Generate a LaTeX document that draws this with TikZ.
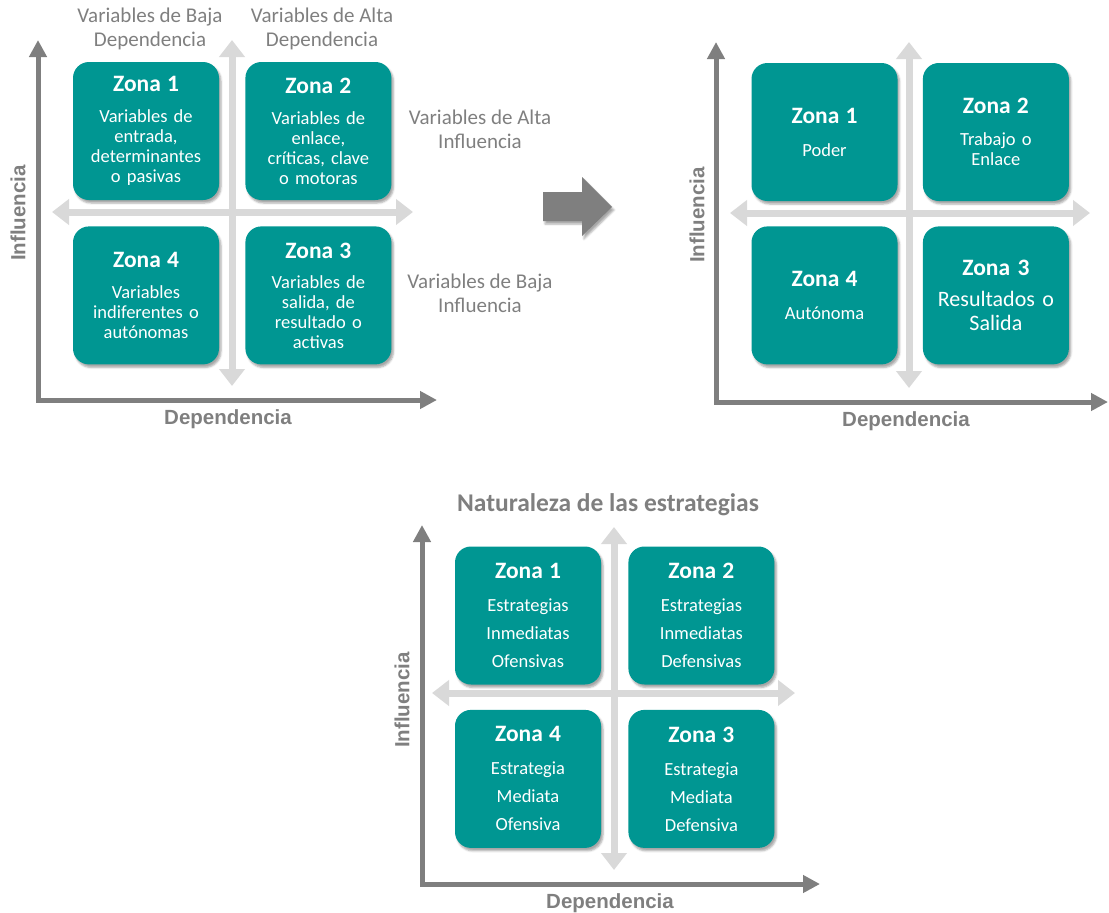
\documentclass[tikz,border=0pt]{standalone}
\usepackage{fontspec}
\setmainfont{Carlito}
\newfontfamily\axisfont{Liberation Sans}
\usetikzlibrary{positioning,arrows.meta,shadows.blur}
\definecolor{zonateal}{RGB}{0,150,146}
\definecolor{axisgray}{RGB}{127,127,127}
\definecolor{crossgray}{RGB}{217,217,217}
\tikzset{
        zone/.style={fill=zonateal, rounded corners=16pt, minimum width=146pt, minimum height=138pt,
            inner sep=0pt, text width=136pt, align=center, text=white, font=\fontsize{18.5}{20}\selectfont,
            blur shadow={shadow xshift=2pt, shadow yshift=-3pt, shadow opacity=35}},
        axis/.style={draw=axisgray, line width=5pt, line join=miter,
            {Triangle[length=17pt,width=17pt]}-{Triangle[length=17pt,width=17pt]}},
        cross/.style={draw=crossgray, line width=7pt,
            {Triangle[length=17pt,width=25pt]}-{Triangle[length=17pt,width=25pt]}},
        axislabel/.style={text=axisgray, font=\axisfont\bfseries\fontsize{20.5}{22}\selectfont},
        sidelabel/.style={text=axisgray, align=center, font=\fontsize{21}{24}\selectfont},
}
\newcommand{\zonatitle}[1]{{\fontsize{23.5}{24}\selectfont\bfseries #1}}
\begin{document}
\begin{tikzpicture}[x=1pt,y=-1pt]
        \useasboundingbox (0,0) rectangle (1109,913);
        % first panel
        \coordinate (a0) at (38,400);
        \coordinate (ay) at (38,40);
        \coordinate (ax) at (437,400);
        \coordinate (at) at (232,40);
        \coordinate (ab) at (232,386);
        \coordinate (al) at (52,212);
        \coordinate (ar) at (413,212);
        \draw [cross] (at) -- (ab);
        \draw [cross] (al) -- (ar);
        \draw [axis] (ay) -- (a0) -- (ax);
        \node [zone] (a1) at (146,131) {\zonatitle{Zona 1}\\[11pt] Variables de\\ entrada,\\ determinantes\\ o pasivas};
        \node [zone, right=26pt of a1] (a2) {\zonatitle{Zona 2}\\[11pt] Variables de\\ enlace,\\ críticas, clave\\ o motoras};
        \node [zone, below=26pt of a1] (a4) {\zonatitle{Zona 4}\\[11pt] Variables\\ indiferentes o\\ autónomas};
        \node [zone, below=26pt of a2] (a3) {\zonatitle{Zona 3}\\[10pt] Variables de\\ salida, de\\ resultado o\\ activas};
        \node [sidelabel] (abaja) at (150,29) {Variables de Baja\\Dependencia};
        \node [sidelabel] (aalta) at (322,29) {Variables de Alta\\Dependencia};
        \node [sidelabel] (ainfa) at (480,129) {Variables de Alta\\Influencia};
        \node [sidelabel] (ainfb) at (480,293) {Variables de Baja\\Influencia};
        \node [axislabel, rotate=90] (ainf) at (18,213) {Influencia};
        \node [axislabel] (adep) at (228,419) {Dependencia};
        % arrow between the panels
        \fill [axisgray, blur shadow={shadow xshift=2pt, shadow yshift=-3pt, shadow opacity=35}]
            (543,192) -- (582,192) -- (582,177) -- (612,207) -- (582,236) -- (582,221) -- (543,221) -- cycle;
        % second panel
        \coordinate (b0) at (716,402);
        \coordinate (by) at (716,42);
        \coordinate (bx) at (1108,402);
        \coordinate (bt) at (909,42);
        \coordinate (bb) at (909,388);
        \coordinate (bl) at (730,213);
        \coordinate (br) at (1090,213);
        \draw [cross] (bt) -- (bb);
        \draw [cross] (bl) -- (br);
        \draw [axis] (by) -- (b0) -- (bx);
        \node [zone] (b1) at (824.5,132) {\zonatitle{Zona 1}\\[13pt] Poder};
        \node [zone, right=25pt of b1] (b2) {\zonatitle{Zona 2}\\[12pt] Trabajo o\\ Enlace};
        \node [zone, below=25pt of b1] (b4) {\zonatitle{Zona 4}\\[13pt] Autónoma};
        \node [zone, below=25pt of b2, font=\fontsize{22}{24}\selectfont] (b3) {\zonatitle{Zona 3}\\[7pt] Resultados o\\ Salida};
        \node [axislabel, rotate=90] (binf) at (697,215) {Influencia};
        \node [axislabel] (bdep) at (906,421) {Dependencia};
        % third panel
        \coordinate (c0) at (422,884);
        \coordinate (cy) at (422,525);
        \coordinate (cx) at (820,884);
        \coordinate (ct) at (614,527);
        \coordinate (cb) at (614,870);
        \coordinate (cl) at (432,693);
        \coordinate (cr) at (795,693);
        \draw [cross] (ct) -- (cb);
        \draw [cross] (cl) -- (cr);
        \draw [axis] (cy) -- (c0) -- (cx);
        \node [text=axisgray, font=\fontsize{25.5}{28}\selectfont\bfseries] (ctitle) at (608,505) {Naturaleza de las estrategias};
        \node [zone, font=\fontsize{18.5}{28}\selectfont] (c1) at (528,615.5) {\zonatitle{Zona 1}\\[5pt] Estrategias\\ Inmediatas\\ Ofensivas};
        \node [zone, right=27pt of c1, font=\fontsize{18.5}{28}\selectfont] (c2) {\zonatitle{Zona 2}\\[5pt] Estrategias\\ Inmediatas\\ Defensivas};
        \node [zone, below=25pt of c1, font=\fontsize{18.5}{28}\selectfont] (c4) {\zonatitle{Zona 4}\\[5pt] Estrategia\\ Mediata\\ Ofensiva};
        \node [zone, below=25pt of c2, font=\fontsize{18.5}{28}\selectfont] (c3) {\zonatitle{Zona 3}\\[5pt] Estrategia\\ Mediata\\ Defensiva};
        \node [axislabel, rotate=90] (cinf) at (402,700) {Influencia};
        \node [axislabel] (cdep) at (610,903) {Dependencia};
\end{tikzpicture}
\end{document}
